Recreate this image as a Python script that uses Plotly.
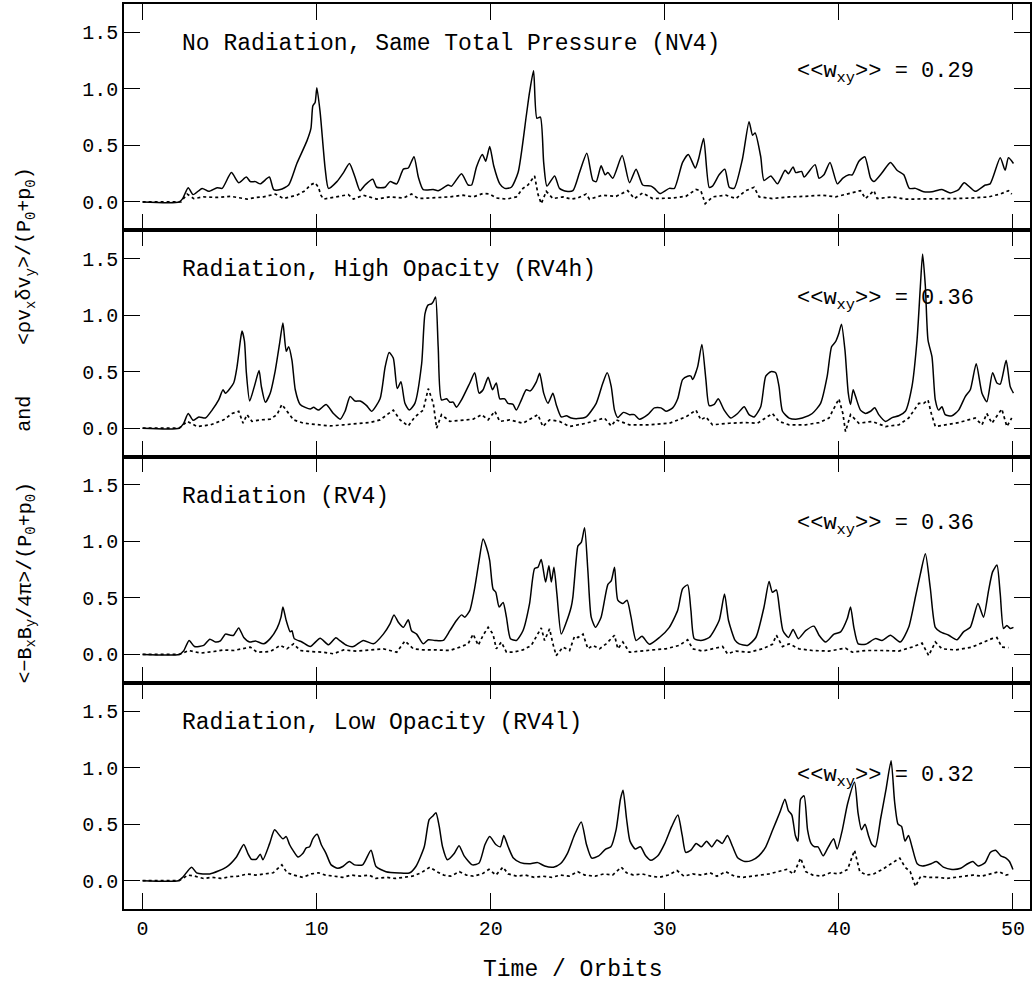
import plotly.graph_objects as go

# ---------------- data (time in orbits, stress normalised) ----------------
# Panel 1: No Radiation, Same Total Pressure (NV4)
nv4_t = [0, 2.1, 2.3, 2.62, 2.9, 3.42, 3.8, 4.28, 4.57, 5.1,
         5.52, 5.96, 6.19, 6.48, 6.76, 7.28, 7.53, 7.91, 8.39, 8.86,
         9.44, 9.67, 9.78, 9.91, 10.01, 10.2, 10.49, 10.68, 11.16, 11.54,
         11.88, 12.2, 12.49, 12.78, 13.22, 13.45, 13.93, 14.21, 14.6, 14.98,
         15.26, 15.59, 15.84, 16.12, 16.7, 16.98, 17.55, 17.75, 18.32, 18.7,
         18.9, 19.18, 19.52, 19.71, 19.94, 20.17, 20.52, 20.8, 21.18, 21.57,
         22.04, 22.23, 22.46, 22.65, 22.85, 23.04, 23.23, 23.67, 23.95, 24.34,
         24.72, 25.1, 25.52, 25.87, 26.06, 26.34, 26.57, 26.73, 27.01, 27.55,
         27.97, 28.35, 28.73, 29.21, 29.4, 29.72, 30.26, 30.55, 31.02, 31.35,
         31.75, 31.94, 32.23, 32.55, 32.74, 33.12, 33.45, 33.7, 33.98, 34.46,
         34.84, 35.04, 35.19, 35.51, 35.7, 36.09, 36.47, 36.91, 37.1, 37.37,
         37.52, 37.86, 38.0, 38.63, 38.86, 39.14, 39.49, 39.91, 40.23, 40.58,
         40.77, 41.15, 41.49, 41.82, 42.01, 42.49, 42.96, 43.34, 43.73, 44.05,
         44.4, 44.87, 45.35, 45.92, 46.4, 46.88, 47.2, 47.83, 48.41, 48.69,
         49.27, 49.55, 49.74, 50.03]
nv4_total = [0, 0, 0.03, 0.126, 0.065, 0.12, 0.094, 0.126, 0.12, 0.26,
             0.17, 0.22, 0.18, 0.18, 0.16, 0.22, 0.11, 0.11, 0.15, 0.34,
             0.54, 0.65, 0.85, 0.88, 1.01, 0.79, 0.29, 0.12, 0.18, 0.26,
             0.34, 0.22, 0.10, 0.15, 0.20, 0.13, 0.13, 0.18, 0.16, 0.29,
             0.30, 0.40, 0.22, 0.11, 0.11, 0.10, 0.15, 0.14, 0.25, 0.15,
             0.15, 0.31, 0.42, 0.36, 0.49, 0.32, 0.16, 0.12, 0.13, 0.26,
             0.76, 0.97, 1.16, 0.74, 0.75, 0.35, 0.14, 0.23, 0.12, 0.094,
             0.10, 0.26, 0.43, 0.19, 0.18, 0.32, 0.24, 0.26, 0.21, 0.41,
             0.17, 0.29, 0.15, 0.14, 0.12, 0.074, 0.12, 0.12, 0.35, 0.42,
             0.30, 0.38, 0.56, 0.13, 0.14, 0.24, 0.29, 0.13, 0.12, 0.38,
             0.71, 0.59, 0.61, 0.40, 0.19, 0.23, 0.16, 0.28, 0.25, 0.31,
             0.26, 0.27, 0.22, 0.33, 0.21, 0.24, 0.35, 0.16, 0.21, 0.24,
             0.24, 0.36, 0.40, 0.21, 0.18, 0.26, 0.35, 0.28, 0.24, 0.12,
             0.12, 0.09, 0.09, 0.11, 0.08, 0.11, 0.17, 0.094, 0.15, 0.16,
             0.39, 0.28, 0.39, 0.34]
nv4_td = [0, 2.2, 2.56, 2.94, 3.5, 4.3, 5.04, 5.5, 6.0, 6.5,
          6.95, 7.62, 8.1, 8.86, 9.34, 9.63, 9.91, 10.1, 10.24, 10.39,
          11.16, 11.82, 12.11, 12.68, 13.45, 14.21, 14.98, 15.45, 15.84, 16.7,
          17.65, 18.41, 18.99, 19.56, 19.94, 20.32, 20.9, 21.47, 21.85, 22.14,
          22.52, 22.71, 22.9, 23.19, 23.57, 24.15, 24.62, 25.0, 25.48, 25.67,
          26.44, 27.2, 27.87, 28.25, 28.73, 29.3, 30.45, 31.21, 31.79, 32.07,
          32.32, 32.74, 33.51, 34.08, 34.65, 35.13, 35.42, 36.18, 37.14, 38.09,
          39.05, 39.81, 40.77, 41.24, 41.53, 42.01, 42.2, 43.06, 43.82, 44.78,
          45.73, 46.69, 47.64, 48.6, 49.27, 49.74, 49.93]
nv4_reyn = [0, 0, 0.07, 0.03, 0.045, 0.04, 0.05, 0.035, 0.025, 0.04,
            0.045, 0.07, 0.03, 0.06, 0.10, 0.15, 0.17, 0.13, 0.06, 0.025,
            0.045, 0.065, 0.025, 0.06, 0.025, 0.045, 0.035, 0.07, 0.03, 0.035,
            0.045, 0.06, 0.045, 0.075, 0.07, 0.035, 0.025, 0.045, 0.12, 0.15,
            0.23, 0.07, -0.015, 0.094, 0.03, 0.045, 0.025, 0.035, 0.07, 0.025,
            0.06, 0.05, 0.10, 0.03, 0.08, 0.03, 0.035, 0.05, 0.11, 0.10,
            -0.015, 0.045, 0.06, 0.03, 0.10, 0.13, 0.045, 0.03, 0.045, 0.05,
            0.06, 0.045, 0.08, 0.10, 0.03, 0.10, 0.03, 0.045, 0.025, 0.025,
            0.025, 0.03, 0.035, 0.045, 0.07, 0.10, 0.07]

# Panel 2: Radiation, High Opacity (RV4h)
rv4h_t = [0, 2.1, 2.35, 2.62, 2.9, 3.23, 3.61, 3.99, 4.37, 4.62,
          4.76, 5.23, 5.42, 5.62, 5.71, 5.85, 5.96, 6.15, 6.42, 6.69,
          6.82, 7.05, 7.33, 7.62, 7.87, 8.06, 8.25, 8.39, 8.58, 8.77,
          9.05, 9.63, 9.82, 10.1, 10.54, 10.96, 11.35, 11.63, 11.92, 12.21,
          12.49, 12.87, 13.16, 13.64, 13.93, 14.16, 14.4, 14.63, 14.84, 15.07,
          15.32, 15.64, 16.03, 16.22, 16.41, 16.6, 16.7, 16.83, 16.98, 17.17,
          17.46, 17.65, 17.84, 18.03, 18.32, 18.8, 19.08, 19.33, 19.56, 19.85,
          20.1, 20.32, 20.52, 20.8, 20.99, 21.28, 21.47, 21.76, 22.04, 22.27,
          22.62, 22.81, 23.04, 23.29, 23.57, 23.76, 24.05, 24.34, 24.62, 25.0,
          25.48, 26.06, 26.44, 26.69, 26.92, 27.11, 27.3, 27.62, 27.97, 28.25,
          28.54, 29.02, 29.4, 29.78, 30.07, 30.45, 30.74, 31.02, 31.31, 31.5,
          31.6, 31.88, 32.13, 32.36, 32.55, 32.84, 33.07, 33.41, 33.79, 34.18,
          34.56, 34.84, 35.13, 35.51, 35.8, 36.09, 36.37, 36.56, 36.76, 37.14,
          37.52, 37.9, 38.47, 38.95, 39.33, 39.58, 39.81, 40.0, 40.15, 40.35,
          40.54, 40.67, 40.82, 40.96, 41.24, 41.53, 41.82, 42.06, 42.29, 42.68,
          43.06, 43.44, 43.82, 44.2, 44.49, 44.68, 44.81, 44.97, 45.12, 45.35,
          45.54, 45.73, 45.92, 46.11, 46.5, 46.88, 47.26, 47.55, 47.89, 48.22,
          48.5, 48.83, 49.08, 49.27, 49.61, 49.84, 50.03]
rv4h_total = [0, 0, 0.04, 0.13, 0.07, 0.10, 0.09, 0.16, 0.25, 0.34,
              0.31, 0.40, 0.54, 0.78, 0.86, 0.77, 0.49, 0.24, 0.37, 0.51,
              0.37, 0.23, 0.31, 0.51, 0.75, 0.93, 0.68, 0.72, 0.60, 0.34,
              0.21, 0.17, 0.185, 0.16, 0.21, 0.13, 0.08, 0.15, 0.28, 0.24,
              0.24, 0.20, 0.15, 0.26, 0.54, 0.67, 0.62, 0.35, 0.41, 0.22,
              0.16, 0.22, 0.57, 1.01, 1.09, 1.10, 1.12, 1.16, 0.72, 0.25,
              0.26, 0.23, 0.23, 0.185, 0.25, 0.40, 0.49, 0.31, 0.34, 0.45,
              0.34, 0.40, 0.26, 0.26, 0.22, 0.21, 0.16, 0.25, 0.34, 0.33,
              0.41, 0.485, 0.31, 0.22, 0.31, 0.21, 0.10, 0.11, 0.09, 0.085,
              0.10, 0.22, 0.40, 0.49, 0.37, 0.16, 0.094, 0.14, 0.12, 0.12,
              0.08, 0.12, 0.18, 0.18, 0.15, 0.18, 0.26, 0.43, 0.46, 0.46,
              0.43, 0.54, 0.74, 0.43, 0.20, 0.21, 0.26, 0.16, 0.09, 0.13,
              0.19, 0.12, 0.10, 0.19, 0.46, 0.50, 0.49, 0.37, 0.15, 0.09,
              0.08, 0.09, 0.13, 0.22, 0.46, 0.72, 0.765, 0.84, 0.92, 0.69,
              0.31, 0.21, 0.34, 0.28, 0.16, 0.13, 0.15, 0.18, 0.12, 0.06,
              0.094, 0.11, 0.15, 0.37, 0.78, 1.25, 1.54, 1.25, 0.78, 0.63,
              0.25, 0.16, 0.19, 0.12, 0.11, 0.16, 0.28, 0.34, 0.57, 0.31,
              0.235, 0.49, 0.40, 0.39, 0.60, 0.37, 0.31]
rv4h_td = [0, 2.1, 2.56, 3.13, 3.9, 4.66, 5.14, 5.52, 5.77, 6.0,
           6.28, 6.76, 7.33, 7.72, 8.0, 8.29, 8.67, 9.25, 10.01, 10.77,
           11.54, 12.3, 13.07, 13.64, 14.02, 14.4, 14.79, 15.26, 15.64, 16.12,
           16.41, 16.7, 16.89, 17.17, 17.65, 18.41, 18.99, 19.47, 19.85, 20.23,
           20.52, 21.09, 21.85, 22.71, 22.99, 23.38, 23.95, 24.53, 25.48, 26.53,
           26.92, 27.2, 27.97, 29.11, 30.26, 31.21, 31.79, 32.07, 32.36, 32.74,
           33.7, 34.65, 35.32, 36.18, 36.56, 37.14, 38.09, 38.86, 39.43, 40.0,
           40.23, 40.38, 40.67, 41.15, 41.91, 42.68, 43.44, 44.01, 44.59, 44.87,
           45.12, 45.31, 45.54, 46.11, 46.88, 47.83, 48.22, 48.5, 48.79, 49.36,
           49.65, 49.93]
rv4h_reyn = [0, 0, 0.06, 0.015, 0.03, 0.074, 0.13, 0.15, 0.044, 0.12,
             0.06, 0.074, 0.08, 0.12, 0.21, 0.15, 0.074, 0.044, 0.03, 0.02,
             0.03, 0.04, 0.05, 0.074, 0.12, 0.16, 0.074, 0.02, 0.10, 0.16,
             0.35, 0.22, 0.0, 0.12, 0.06, 0.074, 0.08, 0.12, 0.074, 0.15,
             0.06, 0.074, 0.044, 0.12, 0.015, 0.074, 0.06, 0.015, 0.044, 0.09,
             0.02, 0.074, 0.03, 0.03, 0.044, 0.10, 0.16, 0.074, 0.10, 0.03,
             0.044, 0.05, 0.044, 0.13, 0.06, 0.03, 0.03, 0.05, 0.09, 0.26,
             0.13, -0.03, 0.12, 0.044, 0.06, 0.015, 0.03, 0.09, 0.22, 0.22,
             0.25, 0.13, 0.015, 0.03, 0.05, 0.09, 0.03, 0.13, 0.044, 0.17,
             0.015, 0.09]

# Panel 3: Radiation (RV4)
rv4_t = [0, 2.1, 2.35, 2.67, 2.98, 3.51, 3.86, 4.18, 4.47, 4.76,
         5.04, 5.23, 5.52, 5.81, 6.15, 6.48, 6.95, 7.33, 7.72, 7.95,
         8.06, 8.25, 8.48, 8.58, 8.71, 9.15, 9.63, 10.2, 10.68, 11.1,
         11.35, 11.73, 12.11, 12.68, 13.26, 13.83, 14.21, 14.44, 14.69, 14.98,
         15.26, 15.45, 15.74, 16.12, 16.41, 16.79, 17.27, 17.65, 18.03, 18.32,
         18.51, 18.8, 19.08, 19.33, 19.56, 19.75, 19.94, 20.13, 20.29, 20.48,
         20.71, 20.9, 21.13, 21.47, 21.85, 22.23, 22.52, 22.71, 22.9, 23.15,
         23.34, 23.48, 23.63, 23.8, 24.05, 24.34, 24.62, 24.72, 24.91, 25.01,
         25.2, 25.39, 25.58, 25.77, 26.02, 26.34, 26.73, 26.92, 27.11, 27.3,
         27.59, 27.83, 28.06, 28.35, 28.69, 29.11, 29.69, 30.26, 30.74, 31.02,
         31.31, 31.5, 31.69, 32.07, 32.55, 33.12, 33.43, 33.66, 34.04, 34.27,
         34.75, 35.23, 35.7, 35.99, 36.18, 36.41, 36.6, 36.79, 37.1, 37.37,
         37.67, 38.09, 38.57, 38.86, 39.24, 39.72, 40.1, 40.48, 40.67, 40.86,
         41.11, 41.53, 42.1, 42.48, 42.96, 43.53, 44.01, 44.4, 44.68, 44.97,
         45.25, 45.54, 45.83, 46.31, 46.78, 47.16, 47.55, 47.99, 48.31, 48.6,
         48.83, 49.08, 49.27, 49.46, 49.65, 49.84, 50.03]
rv4_total = [0, 0, 0.03, 0.124, 0.07, 0.08, 0.135, 0.11, 0.12, 0.18,
             0.17, 0.17, 0.235, 0.15, 0.11, 0.12, 0.094, 0.14, 0.23, 0.33,
             0.42, 0.30, 0.20, 0.21, 0.14, 0.11, 0.07, 0.144, 0.085, 0.147,
             0.12, 0.08, 0.07, 0.124, 0.094, 0.18, 0.27, 0.35, 0.285, 0.24,
             0.306, 0.21, 0.18, 0.094, 0.13, 0.124, 0.124, 0.21, 0.30, 0.35,
             0.33, 0.39, 0.59, 0.83, 1.02, 0.95, 0.83, 0.58, 0.55, 0.42,
             0.46, 0.33, 0.14, 0.124, 0.21, 0.45, 0.76, 0.77, 0.84, 0.64,
             0.785, 0.64, 0.77, 0.535, 0.18, 0.285, 0.42, 0.51, 0.84, 0.96,
             0.99, 1.12, 0.74, 0.33, 0.24, 0.33, 0.62, 0.65, 0.77, 0.48,
             0.45, 0.48, 0.33, 0.124, 0.16, 0.09, 0.15, 0.24, 0.39, 0.58,
             0.615, 0.39, 0.14, 0.124, 0.15, 0.30, 0.535, 0.30, 0.124, 0.094,
             0.08, 0.15, 0.42, 0.645, 0.55, 0.57, 0.39, 0.21, 0.15, 0.22,
             0.14, 0.21, 0.25, 0.17, 0.11, 0.18, 0.20, 0.315, 0.42, 0.24,
             0.094, 0.09, 0.14, 0.124, 0.17, 0.11, 0.24, 0.51, 0.71, 0.89,
             0.59, 0.24, 0.20, 0.17, 0.13, 0.20, 0.24, 0.45, 0.33, 0.565,
             0.73, 0.79, 0.535, 0.23, 0.255, 0.23, 0.24]
rv4_td = [0, 2.1, 2.66, 3.32, 4.09, 4.66, 5.23, 5.81, 6.19, 6.57,
          7.33, 7.91, 8.29, 8.67, 9.05, 9.63, 10.39, 10.96, 11.54, 12.3,
          13.07, 13.83, 14.6, 15.07, 15.55, 16.12, 16.89, 17.65, 18.22, 18.7,
          18.99, 19.28, 19.56, 19.85, 20.13, 20.32, 20.61, 20.9, 21.28, 21.85,
          22.33, 22.71, 22.9, 23.09, 23.38, 23.57, 23.76, 24.15, 24.53, 24.81,
          25.01, 25.3, 25.58, 25.87, 26.25, 26.63, 27.11, 27.3, 27.59, 27.97,
          28.54, 29.3, 30.07, 30.83, 31.31, 31.6, 32.17, 32.74, 33.32, 33.6,
          34.08, 34.84, 35.61, 36.18, 36.41, 36.76, 37.14, 37.71, 38.47, 39.43,
          40.38, 40.77, 41.53, 42.48, 43.44, 44.2, 44.78, 45.16, 45.54, 45.92,
          46.69, 47.64, 48.31, 48.79, 49.08, 49.36, 49.74]
rv4_reyn = [0, 0, 0.035, 0.012, 0.026, 0.04, 0.035, 0.05, 0.065, 0.02,
            0.026, 0.08, 0.05, 0.094, 0.035, 0.026, 0.02, 0.006, 0.04, 0.03,
            0.04, 0.05, 0.02, 0.12, 0.05, 0.04, 0.04, 0.035, 0.065, 0.094,
            0.18, 0.08, 0.17, 0.24, 0.18, 0.05, 0.11, 0.02, 0.02, 0.04,
            0.08, 0.18, 0.235, 0.124, 0.226, 0.094, -0.01, 0.065, 0.035, 0.16,
            0.15, 0.18, 0.05, 0.08, 0.05, 0.094, 0.17, 0.05, 0.11, 0.02,
            0.03, 0.04, 0.05, 0.08, 0.13, 0.05, 0.03, 0.05, 0.07, 0.006,
            0.03, 0.02, 0.05, 0.09, 0.17, 0.07, 0.094, 0.05, 0.035, 0.03,
            0.056, 0.02, 0.035, 0.035, 0.03, 0.065, 0.10, -0.01, 0.11, 0.05,
            0.04, 0.065, 0.11, 0.14, 0.15, 0.065, 0.06]

# Panel 4: Radiation, Low Opacity (RV4l)
rv4l_t = [0, 2.05, 2.3, 2.81, 3.1, 3.86, 4.81, 5.39, 5.81, 6.05,
          6.25, 6.53, 6.76, 6.91, 7.3, 7.58, 7.87, 8.06, 8.25, 8.44,
          8.63, 8.92, 9.2, 9.4, 9.59, 9.78, 10.03, 10.26, 10.54, 10.83,
          11.21, 11.5, 11.88, 12.17, 12.64, 13.12, 13.41, 13.98, 14.75, 15.32,
          15.7, 16.18, 16.46, 16.66, 16.85, 17.04, 17.23, 17.51, 17.9, 18.18,
          18.47, 18.95, 19.33, 19.67, 19.94, 20.29, 20.55, 20.75, 21.0, 21.3,
          21.7, 22.2, 22.7, 23.1, 23.6, 24.0, 24.4, 24.8, 25.2, 25.5,
          25.8, 26.2, 26.6, 26.9, 27.2, 27.45, 27.6, 27.8, 28.0, 28.3,
          28.6, 28.9, 29.2, 29.6, 30.0, 30.4, 30.75, 31.0, 31.2, 31.5,
          31.8, 32.1, 32.4, 32.7, 33.0, 33.3, 33.6, 33.9, 34.2, 34.6,
          35.0, 35.4, 35.8, 36.2, 36.6, 36.9, 37.1, 37.3, 37.5, 37.65,
          37.8, 38.0, 38.2, 38.4, 38.6, 38.8, 39.1, 39.4, 39.7, 39.9,
          40.2, 40.5, 40.9, 41.1, 41.3, 41.5, 41.7, 41.9, 42.1, 42.4,
          42.7, 43.0, 43.2, 43.4, 43.6, 43.8, 44.0, 44.2, 44.5, 44.8,
          45.3, 45.6, 46.0, 46.5, 47.0, 47.4, 47.7, 48.0, 48.4, 48.7,
          49.0, 49.3, 49.6, 49.8, 50.0]
rv4l_total = [0, 0, 0.03, 0.12, 0.07, 0.06, 0.12, 0.21, 0.32, 0.24,
              0.19, 0.19, 0.235, 0.185, 0.33, 0.45, 0.40, 0.37, 0.39, 0.32,
              0.27, 0.21, 0.24, 0.29, 0.30, 0.37, 0.41, 0.32, 0.24, 0.14,
              0.11, 0.126, 0.17, 0.14, 0.14, 0.27, 0.126, 0.08, 0.068, 0.068,
              0.126, 0.30, 0.54, 0.57, 0.60, 0.48, 0.30, 0.185, 0.24, 0.31,
              0.22, 0.14, 0.156, 0.32, 0.39, 0.32, 0.30, 0.40, 0.30, 0.20,
              0.16, 0.15, 0.16, 0.13, 0.12, 0.15, 0.24, 0.40, 0.52, 0.32,
              0.20, 0.22, 0.28, 0.30, 0.45, 0.72, 0.80, 0.55, 0.35, 0.28,
              0.30, 0.22, 0.18, 0.22, 0.33, 0.48, 0.58, 0.40, 0.25, 0.27,
              0.33, 0.30, 0.35, 0.30, 0.36, 0.33, 0.40, 0.30, 0.20, 0.17,
              0.18, 0.22, 0.30, 0.45, 0.60, 0.72, 0.62, 0.58, 0.40, 0.35,
              0.72, 0.75, 0.45, 0.33, 0.30, 0.30, 0.22, 0.30, 0.37, 0.28,
              0.45, 0.68, 0.87, 0.60, 0.45, 0.50, 0.40, 0.32, 0.30, 0.55,
              0.80, 1.06, 0.70, 0.50, 0.48, 0.35, 0.40, 0.30, 0.15, 0.13,
              0.15, 0.17, 0.12, 0.10, 0.11, 0.15, 0.17, 0.13, 0.16, 0.25,
              0.27, 0.22, 0.20, 0.17, 0.10]
rv4l_td = [0, 2.1, 2.6, 3.0, 3.5, 4.0, 4.5, 5.0, 5.5, 6.0,
           6.5, 7.0, 7.5, 8.0, 8.3, 8.7, 9.2, 9.7, 10.1, 10.5,
           11.0, 11.5, 12.0, 12.5, 13.0, 13.4, 14.0, 14.5, 15.0, 15.5,
           16.0, 16.5, 16.9, 17.3, 17.7, 18.2, 18.6, 19.0, 19.5, 19.9,
           20.3, 20.7, 21.0, 21.5, 22.0, 22.5, 23.0, 23.5, 24.0, 24.5,
           25.0, 25.4, 26.0, 26.5, 27.0, 27.5, 27.8, 28.2, 28.7, 29.2,
           29.7, 30.2, 30.7, 31.1, 31.6, 32.1, 32.6, 33.0, 33.5, 34.0,
           34.5, 35.0, 35.5, 36.0, 36.5, 37.0, 37.4, 37.8, 38.1, 38.5,
           39.0, 39.5, 40.0, 40.5, 40.9, 41.2, 41.6, 42.0, 42.5, 43.0,
           43.5, 43.8, 44.1, 44.4, 44.7, 45.2, 45.7, 46.2, 46.7, 47.2,
           47.7, 48.2, 48.7, 49.2, 49.6, 49.9]
rv4l_reyn = [0, 0, 0.05, 0.04, 0.02, 0.03, 0.02, 0.035, 0.04, 0.06,
             0.05, 0.06, 0.07, 0.14, 0.07, 0.05, 0.03, 0.06, 0.07, 0.05,
             0.04, 0.03, 0.05, 0.04, 0.05, 0.02, 0.03, 0.02, 0.03, 0.04,
             0.07, 0.12, 0.08, 0.05, 0.04, 0.08, 0.05, 0.04, 0.06, 0.10,
             0.05, 0.12, 0.06, 0.04, 0.05, 0.03, 0.04, 0.03, 0.05, 0.04,
             0.08, 0.05, 0.04, 0.06, 0.05, 0.12, 0.07, 0.05, 0.06, 0.04,
             0.03, 0.05, 0.09, 0.04, 0.06, 0.05, 0.07, 0.04, 0.08, 0.04,
             0.03, 0.04, 0.05, 0.06, 0.08, 0.10, 0.06, 0.20, 0.08, 0.05,
             0.04, 0.07, 0.06, 0.10, 0.27, 0.08, 0.05, 0.06, 0.10, 0.15,
             0.20, 0.12, 0.08, -0.05, 0.04, 0.03, 0.03, 0.02, 0.03, 0.04,
             0.05, 0.04, 0.06, 0.08, 0.05, 0.06]

panel_titles = ["No Radiation, Same Total Pressure (NV4)",
                "Radiation, High Opacity (RV4h)",
                "Radiation (RV4)",
                "Radiation, Low Opacity (RV4l)"]
wxy_values = ["0.29", "0.36", "0.36", "0.32"]

x_major = [0, 10, 20, 30, 40, 50]
y_major = [0.0, 0.5, 1.0, 1.5]

panels = [(nv4_t, nv4_total, nv4_td, nv4_reyn),
          (rv4h_t, rv4h_total, rv4h_td, rv4h_reyn),
          (rv4_t, rv4_total, rv4_td, rv4_reyn),
          (rv4l_t, rv4l_total, rv4l_td, rv4l_reyn)]

# ---------------- figure ----------------
W, H = 1034, 986
ML, MR, MT, MB = 124, 2, 3, 77
PW, PH = W - ML - MR, H - MT - MB
XR = [-1.07, 50.98]
YR = [-0.25, 1.75]
FONT = "Liberation Mono"
TICKFONT = dict(family=FONT, size=20, color="black")

fig = go.Figure()
layout = {}
for i, (t, tot, td, reyn) in enumerate(panels):
    assert len(t) == len(tot) and len(td) == len(reyn)
    n = i + 1
    xa = "x" if n == 1 else f"x{n}"
    ya = "y" if n == 1 else f"y{n}"
    fig.add_trace(go.Scatter(x=t, y=tot, mode="lines", xaxis=xa, yaxis=ya,
                             line=dict(color="black", width=1.5,
                                       shape="spline", smoothing=0.6),
                             hoverinfo="skip"))
    fig.add_trace(go.Scatter(x=td, y=reyn, mode="lines", xaxis=xa, yaxis=ya,
                             line=dict(color="black", width=1.7, dash="dot"),
                             hoverinfo="skip"))
    dom = [1 - n / 4, 1 - (n - 1) / 4]
    # major ticks + frame on the main axes
    layout[f"xaxis{'' if n == 1 else n}"] = dict(
        domain=[0, 1], anchor=ya, range=XR, tickmode="array", tickvals=x_major,
        ticks="inside", ticklen=16, tickwidth=1.4, tickcolor="#000000",
        showline=True, linecolor="black", linewidth=1.6,
        mirror="allticks" if n == 1 else "ticks", showgrid=False,
        zeroline=False, showticklabels=(n == 4), tickfont=TICKFONT)
    layout[f"yaxis{'' if n == 1 else n}"] = dict(
        domain=dom, anchor=xa, range=YR, tickmode="array", tickvals=y_major,
        tickformat=".1f", ticks="inside", ticklen=16, tickwidth=1.4,
        tickcolor="#000000", showline=True, linecolor="black", linewidth=1.6,
        mirror="allticks", showgrid=False, zeroline=False, tickfont=TICKFONT)
    # minor ticks on overlay axes
    layout[f"xaxis{n + 4}"] = dict(
        overlaying=xa, anchor=ya, range=XR, tickmode="linear", tick0=0, dtick=2,
        ticks="inside", ticklen=8, tickwidth=1.4, tickcolor="#000000",
        mirror="ticks", showline=False, showgrid=False, zeroline=False,
        showticklabels=False)
    layout[f"yaxis{n + 4}"] = dict(
        overlaying=ya, anchor=xa, range=YR, tickmode="linear", tick0=0,
        dtick=0.1, ticks="inside", ticklen=8, tickwidth=1.4, tickcolor="#000000",
        mirror="ticks", showline=False, showgrid=False, zeroline=False,
        showticklabels=False)


def px_x(px):
    return (px - ML) / PW


def px_y(py):
    return (H - MB - py) / PH


annotations = []
title_y = [43, 269, 497, 723]
wxy_y = [72, 299, 525, 777]
for i in range(4):
    annotations.append(dict(text=panel_titles[i], x=px_x(180), y=px_y(title_y[i]),
                            xref="paper", yref="paper", xanchor="left",
                            yanchor="middle", showarrow=False,
                            font=dict(family=FONT, size=23, color="black")))
    annotations.append(dict(text="&lt;&lt;w<sub>xy</sub>&gt;&gt; = " + wxy_values[i],
                            x=px_x(796), y=px_y(wxy_y[i]),
                            xref="paper", yref="paper", xanchor="left",
                            yanchor="middle", showarrow=False,
                            font=dict(family=FONT, size=22, color="black")))

annotations.append(dict(text="Time / Orbits", x=px_x(573), y=px_y(970),
                        xref="paper", yref="paper", xanchor="center",
                        yanchor="middle", showarrow=False,
                        font=dict(family=FONT, size=23, color="black")))

ylab_font = dict(family=FONT, size=20, color="black")
annotations.append(dict(text="&lt;ρv<sub>x</sub>δv<sub>y</sub>&gt;/(P<sub>0</sub>+p<sub>0</sub>)",
                        x=px_x(26), y=px_y(255), xref="paper", yref="paper",
                        xanchor="center", yanchor="middle", textangle=-90,
                        showarrow=False, font=ylab_font))
annotations.append(dict(text="and", x=px_x(24), y=px_y(413), xref="paper", yref="paper",
                        xanchor="center", yanchor="middle", textangle=-90,
                        showarrow=False, font=ylab_font))
annotations.append(dict(text="&lt;−B<sub>x</sub>B<sub>y</sub>/4π&gt;/(P<sub>0</sub>+p<sub>0</sub>)",
                        x=px_x(26), y=px_y(582), xref="paper", yref="paper",
                        xanchor="center", yanchor="middle", textangle=-90,
                        showarrow=False, font=ylab_font))

fig.update_layout(width=W, height=H,
                  margin=dict(l=ML, r=MR, t=MT, b=MB),
                  paper_bgcolor="white", plot_bgcolor="white",
                  showlegend=False, annotations=annotations, **layout)

fig.write_html("out.html")
